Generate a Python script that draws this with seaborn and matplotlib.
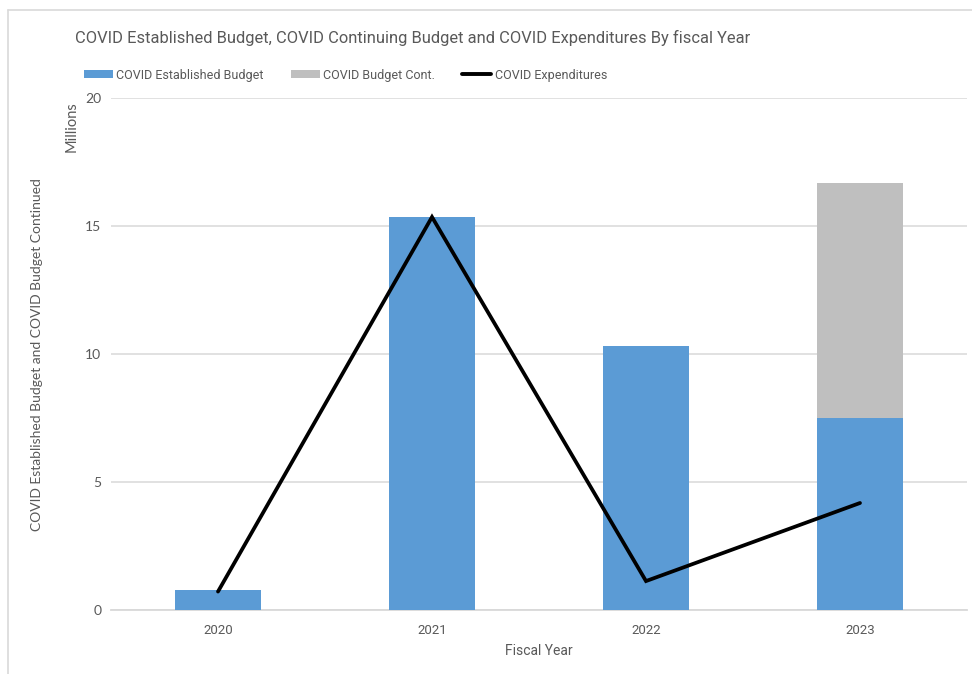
import matplotlib
matplotlib.use("Agg")
import matplotlib.pyplot as plt
import seaborn as sns
import pandas as pd
from matplotlib.patches import Patch
from matplotlib.lines import Line2D

years = ["2020", "2021", "2022", "2023"]
established = [0.78, 15.35, 10.3, 7.49]
continued = [0.0, 0.0, 0.0, 9.18]
expenditures = [0.72, 15.35, 1.13, 4.18]

title = "COVID Established Budget, COVID Continuing Budget and COVID Expenditures By fiscal Year"
legend_labels = ["COVID Established Budget", "COVID Budget Cont.", "COVID Expenditures"]
y_ticks = [0, 5, 10, 15, 20]

BLUE = "#5B9BD5"
GRAY = "#BFBFBF"
TXT = "#595959"
GRID = "#D9D9D9"

sns.set_theme(style="white")
NARROW = ["Roboto", "DejaVu Sans"]
REG = ["Lato", "DejaVu Sans"]
plt.rcParams["font.family"] = NARROW

df = pd.DataFrame({
    "year": years,
    "est": established,
    "total": [a + b for a, b in zip(established, continued)],
    "exp": expenditures,
})

W, H = 972, 674
fig = plt.figure(figsize=(W / 100, H / 100), dpi=100)
ax = fig.add_axes([111 / W, 1 - 610 / H, (967 - 111) / W, (610 - 98) / H])

sns.barplot(data=df, x="year", y="total", color=GRAY, saturation=1, width=0.4, ax=ax,
            zorder=2, edgecolor="none", linewidth=0)
sns.barplot(data=df, x="year", y="est", color=BLUE, saturation=1, width=0.4, ax=ax,
            zorder=3, edgecolor="none", linewidth=0)
sns.pointplot(data=df, x="year", y="exp", color="black", markers="", linewidth=2.7,
              errorbar=None, ax=ax, zorder=4)
for ln in ax.lines:
    ln.set_solid_joinstyle("miter")
    ln.set_zorder(4)

ax.set_ylim(0, 20)
ax.set_xlim(-0.5, 3.5)
ax.set_yticks(y_ticks)
ax.set_yticklabels([str(t) for t in y_ticks], family=REG, fontsize=10, color=TXT)
ax.set_xticks(range(len(years)))
ax.set_xticklabels(years, fontsize=9.5, color=TXT)
ax.tick_params(axis="y", length=0, pad=7)
ax.tick_params(axis="x", length=0, pad=10)
ax.yaxis.grid(True, color=GRID, linewidth=1.1, zorder=0)
ax.set_axisbelow(True)
for s in ["top", "right", "left"]:
    ax.spines[s].set_visible(False)
ax.spines["bottom"].set_color(GRID)
ax.spines["bottom"].set_linewidth(1.3)
ax.set_xlabel("Fiscal Year", fontsize=10, color=TXT, labelpad=5)
ax.set_ylabel("")

fig.text(37 / W, 1 - 355 / H, "COVID Established Budget and COVID Budget Continued",
         rotation=90, ha="center", va="center", family=REG, fontsize=10, color=TXT)
fig.text(72 / W, 1 - 127 / H, "Millions", rotation=90, ha="center", va="center",
         family=REG, fontsize=10.5, color=TXT)

fig.text(75 / W, 1 - 38 / H, title, ha="left", va="center", fontsize=11.9, color=TXT)

handles = [Patch(facecolor=BLUE, edgecolor="none"),
           Patch(facecolor=GRAY, edgecolor="none"),
           Line2D([0], [0], color="black", linewidth=2.8)]
fig.legend(handles, legend_labels, loc="center left", bbox_to_anchor=(84 / W, 1 - 75 / H),
           ncol=3, frameon=False, fontsize=9, handlelength=2.3, handleheight=0.65,
           handletextpad=0.3, columnspacing=2.15, borderpad=0, borderaxespad=0,
           labelcolor=TXT)

fig.add_artist(Line2D([8 / W, 1], [1 - 10 / H, 1 - 10 / H], color=GRID, linewidth=1.2,
                      transform=fig.transFigure))
fig.add_artist(Line2D([8 / W, 8 / W], [0, 1 - 10 / H], color=GRID, linewidth=1.2,
                      transform=fig.transFigure))

fig.savefig("out.png", dpi=100, facecolor="white")
